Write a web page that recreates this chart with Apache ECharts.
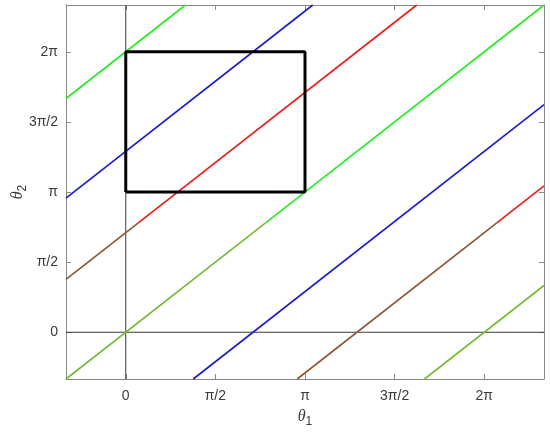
<!DOCTYPE html>
<html>
<head>
<meta charset="utf-8">
<script src="https://cdn.jsdelivr.net/npm/echarts@6/dist/echarts.min.js"></script>
<style>html,body{margin:0;padding:0;background:#fff}#c{width:550px;height:435px}</style>
</head>
<body>
<div id="c"></div>
<script>
// All values in units of π
const axisMin = -1/3, axisMax = 7/3;
const tickValues = [0, 0.5, 1, 1.5, 2];
const tickLabels = ['0', 'π/2', 'π', '3π/2', '2π'];
// lines θ2 = θ1 + c
const greenOffsets = [-2, 0, 2];
const redOffsets = [-1.29, 0.71];
const blueOffsets = [-0.71, 1.29];
const shadeBelow = 0.78; // below this θ2 the red/green lines are drawn darker
const rectX = [0, 1, 1, 0, 0];
const rectY = [1, 1, 2, 2, 1];

const series = [];
function mk(data, color, w) {
  return {type: 'line', data: data, symbol: 'none', silent: true, animation: false,
    lineStyle: {color: color, width: w || 1.6}, z: 3};
}
function addLine(c, color, darkColor) {
  const x0 = Math.max(axisMin, axisMin - c), x1 = Math.min(axisMax, axisMax - c);
  if (x1 <= x0) return;
  if (darkColor && x0 + c < shadeBelow && x1 + c > shadeBelow) {
    const xs = shadeBelow - c;
    series.push(mk([[x0, x0 + c], [xs, xs + c]], darkColor));
    series.push(mk([[xs, xs + c], [x1, x1 + c]], color));
  } else if (darkColor && x1 + c <= shadeBelow) {
    series.push(mk([[x0, x0 + c], [x1, x1 + c]], darkColor));
  } else {
    series.push(mk([[x0, x0 + c], [x1, x1 + c]], color));
  }
}
// zero lines
series.push(Object.assign(mk([[0, axisMin], [0, axisMax]], '#3a3a3a', 1), {z: 2}));
series.push(Object.assign(mk([[axisMin, 0], [axisMax, 0]], '#3a3a3a', 1), {z: 2}));
greenOffsets.forEach(c => addLine(c, '#22ee22', '#7ab83a'));
redOffsets.forEach(c => addLine(c, '#f01818', '#8c5530'));
blueOffsets.forEach(c => addLine(c, '#1a1acc', null));
series.push(Object.assign(mk(rectX.map((x, i) => [x, rectY[i]]), '#000', 3), {z: 5}));

const labelStyle = {fontFamily: 'Liberation Sans, Arial, sans-serif', fontSize: 14, color: '#3a3a3a'};
const fmt = v => { const i = tickValues.findIndex(t => Math.abs(t - v) < 1e-9); return i >= 0 ? tickLabels[i] : ''; };
function ax(pos, show, extra) {
  return Object.assign({
    type: 'value', min: axisMin, max: axisMax, position: pos,
    axisLine: {show: true, onZero: false, lineStyle: {color: '#8a8a8a', width: 1}},
    axisTick: {show: true, inside: true, length: 5, customValues: tickValues, lineStyle: {color: '#8a8a8a'}},
    axisLabel: {show: show, customValues: tickValues, formatter: fmt, ...labelStyle},
    splitLine: {show: false}
  }, extra || {});
}
const nameRich = {
  t: {fontFamily: 'Liberation Serif, serif', fontStyle: 'italic', fontSize: 16, color: '#3a3a3a'},
  s: {fontFamily: 'Liberation Sans, sans-serif', fontSize: 12, color: '#3a3a3a', padding: [10, 0, 0, 0]}
};
const chart = echarts.init(document.getElementById('c'), null, {renderer: 'canvas'});
chart.setOption({
  backgroundColor: '#fff',
  grid: {left: 66, right: 6, top: 5, bottom: 56, containLabel: false, outerBoundsMode: 'none'},
  xAxis: [
    ax('bottom', true, {name: '{t|θ}{s|1}', nameLocation: 'middle', nameGap: 27, nameMoveOverlap: false,
      nameTextStyle: {rich: nameRich},
      axisLabel: {show: true, customValues: tickValues, formatter: fmt, margin: 10, ...labelStyle}}),
    ax('top', false)
  ],
  yAxis: [
    ax('left', true, {name: '{t|θ}{s|2}', nameLocation: 'middle', nameGap: 37, nameRotate: 90, nameMoveOverlap: false,
      nameTextStyle: {rich: nameRich},
      axisLabel: {show: true, customValues: tickValues, formatter: fmt, margin: 8, ...labelStyle}}),
    ax('right', false)
  ],
  series: series
});
</script>
</body>
</html>
